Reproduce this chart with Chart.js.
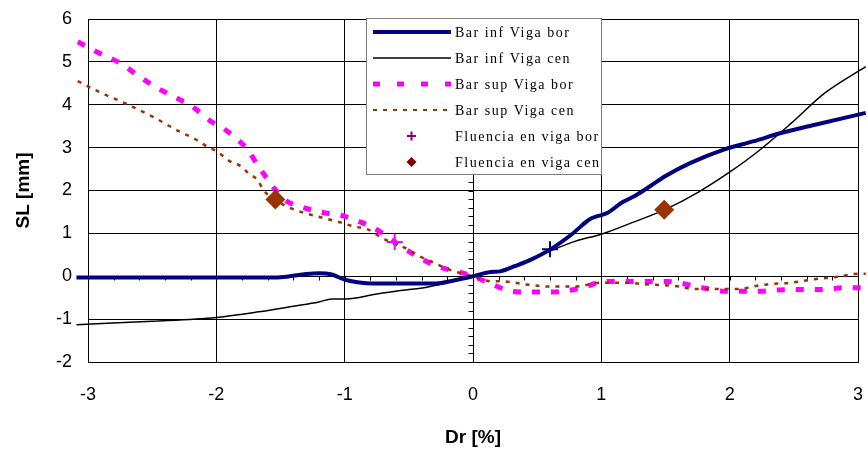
<!DOCTYPE html>
<html lang="es">
<head>
    <meta charset="UTF-8">
    <title>SL vs Dr</title>
    <script src="https://cdn.jsdelivr.net/npm/chart.js"></script>
    <style>
        body { margin: 0; background: #fff; }
        #wrap { width: 868px; height: 453px; }
    </style>
</head>
<body>
    <div id="wrap">
        <canvas id="sl-chart" width="868" height="453"></canvas>
    </div>

    <script>
        // Series values (Dr [%] -> SL [mm])
        var infBorX = [-3.09, -2.5, -2.0, -1.6, -1.45, -1.3, -1.2, -1.1, -1.0, -0.9, -0.78, -0.5, -0.29, -0.15, 0,
                       0.12, 0.22, 0.33, 0.46, 0.60, 0.77, 0.91, 0.97, 1.05, 1.16, 1.26, 1.38, 1.5, 1.7, 1.96, 2.19, 2.40, 2.69, 3.06];
        var infBorY = [-0.03, -0.03, -0.03, -0.03, -0.01, 0.05, 0.07, 0.04, -0.08, -0.14, -0.17, -0.17, -0.17, -0.1, 0,
                       0.09, 0.12, 0.24, 0.40, 0.62, 0.98, 1.33, 1.40, 1.48, 1.72, 1.87, 2.1, 2.34, 2.65, 2.96, 3.15, 3.34, 3.55, 3.81];

        var infCenX = [-3.09, -2.5, -2.0, -1.67, -1.4, -1.2, -1.1, -0.99, -0.76, -0.58, -0.37, -0.2, 0,
                       0.2, 0.33, 0.46, 0.61, 0.8, 1.0, 1.24, 1.5, 1.75, 2.01, 2.22, 2.48, 2.74, 3.06];
        var infCenY = [-1.13, -1.05, -0.96, -0.83, -0.7, -0.6, -0.53, -0.53, -0.42, -0.34, -0.26, -0.15, 0,
                       0.12, 0.24, 0.40, 0.6, 0.82, 0.98, 1.25, 1.56, 1.95, 2.45, 2.91, 3.57, 4.27, 4.89];

        var supBorX = [-3.08, -2.91, -2.75, -2.6, -2.46, -2.31, -2.17, -2.04, -1.95, -1.82, -1.75, -1.68, -1.60, -1.54, -1.45,
                       -1.36, -1.16, -1.04, -0.9, -0.78, -0.6, -0.45, -0.29, -0.14, 0,
                       0.15, 0.30, 0.42, 0.61, 0.77, 0.90, 0.96, 1.06, 1.26, 1.51, 1.65, 1.81, 1.96, 2.08, 2.24, 2.38, 2.55, 2.70, 2.89, 3.06];
        var supBorY = [5.47, 5.2, 4.97, 4.66, 4.39, 4.16, 3.92, 3.61, 3.46, 3.15, 2.93, 2.60, 2.26, 2.02, 1.75,
                       1.64, 1.48, 1.43, 1.29, 1.14, 0.78, 0.49, 0.24, 0.12, 0,
                       -0.19, -0.35, -0.37, -0.37, -0.32, -0.22, -0.16, -0.12, -0.12, -0.12, -0.18, -0.28, -0.35, -0.35, -0.35, -0.32, -0.31, -0.31, -0.27, -0.27];

        var supCenX = [-3.08, -2.9, -2.73, -2.47, -2.31, -2.16, -2.08, -1.98, -1.9, -1.8, -1.75, -1.68, -1.63, -1.54, -1.43,
                       -1.33, -1.22, -1.05, -0.94, -0.81, -0.73, -0.6, -0.52, -0.42, -0.33, -0.19, -0.07, 0,
                       0.12, 0.24, 0.41, 0.6, 0.8, 0.99, 1.18, 1.36, 1.61, 1.72, 1.91, 2.08, 2.18, 2.29, 2.48, 2.66, 2.85, 2.96, 3.06];
        var supCenY = [4.55, 4.28, 4.06, 3.68, 3.41, 3.19, 3.04, 2.88, 2.69, 2.55, 2.40, 2.25, 2.0, 1.78, 1.60,
                       1.49, 1.40, 1.27, 1.17, 1.08, 0.93, 0.74, 0.65, 0.47, 0.35, 0.16, 0.05, 0,
                       -0.11, -0.12, -0.19, -0.24, -0.24, -0.15, -0.15, -0.19, -0.24, -0.30, -0.30, -0.30, -0.24, -0.19, -0.15, -0.07, -0.01, 0.05, 0.06];

        // yield points
        var fluBorX = [-0.61, 0.60];
        var fluBorY = [0.80, 0.63];
        var fluCenX = [-1.54, 1.49];
        var fluCenY = [1.79, 1.55];

        var xTicks = [-3, -2, -1, 0, 1, 2, 3];
        var yTicks = [-2, -1, 0, 1, 2, 3, 4, 5, 6];

        var labels = ['Bar inf Viga bor', 'Bar inf Viga cen', 'Bar sup Viga bor', 'Bar sup Viga cen',
                      'Fluencia en viga bor', 'Fluencia en viga cen'];

        function pts(xs, ys) {
            return xs.map(function(x, i) { return {x: x, y: ys[i]}; });
        }

        // frame, zero axes and minor ticks
        var axesPlugin = {
            id: 'zeroAxes',
            beforeDatasetsDraw: function(chart) {
                var ctx = chart.ctx, a = chart.chartArea;
                var xs = chart.scales.x, ys = chart.scales.y;
                var x0 = Math.round(xs.getPixelForValue(0)) + 0.5;
                var y0 = Math.round(ys.getPixelForValue(0)) + 0.5;
                ctx.save();
                ctx.strokeStyle = '#000';
                ctx.lineWidth = 1;
                ctx.strokeRect(Math.round(a.left) + 0.5, Math.round(a.top) + 0.5,
                               Math.round(a.right - a.left), Math.round(a.bottom - a.top));
                ctx.beginPath();
                ctx.moveTo(x0, a.top); ctx.lineTo(x0, a.bottom);
                ctx.moveTo(a.left, y0); ctx.lineTo(a.right, y0);
                for (var v = -3; v <= 3.001; v += 0.2) {
                    var px = Math.round(xs.getPixelForValue(v)) + 0.5;
                    ctx.moveTo(px, y0); ctx.lineTo(px, y0 + 4);
                }
                for (var w = -2; w <= 6.001; w += 0.2) {
                    var py = Math.round(ys.getPixelForValue(w)) + 0.5;
                    ctx.moveTo(x0 - 5, py); ctx.lineTo(x0, py);
                }
                ctx.stroke();
                ctx.restore();
            }
        };

        // boxed legend inside the plot
        var legendPlugin = {
            id: 'boxLegend',
            afterDatasetsDraw: function(chart) {
                var ctx = chart.ctx;
                var bx = 366.5, by = 18.5, bw = 235, bh = 156;
                ctx.save();
                ctx.fillStyle = '#fff';
                ctx.fillRect(bx, by, bw, bh);
                ctx.strokeStyle = '#808080';
                ctx.lineWidth = 1;
                ctx.strokeRect(bx, by, bw, bh);
                var rowY = [32, 58, 84, 110, 136, 162];
                var styles = [
                    {c: '#000080', w: 4, d: []},
                    {c: '#000000', w: 1.5, d: []},
                    {c: '#FF00FF', w: 5, d: [7, 17]},
                    {c: '#993300', w: 2, d: [4, 6]}
                ];
                for (var i = 0; i < 4; i++) {
                    ctx.beginPath();
                    ctx.strokeStyle = styles[i].c;
                    ctx.lineWidth = styles[i].w;
                    ctx.setLineDash(styles[i].d);
                    ctx.moveTo(373, rowY[i]); ctx.lineTo(451, rowY[i]);
                    ctx.stroke();
                }
                ctx.setLineDash([]);
                // cross
                ctx.beginPath();
                ctx.strokeStyle = '#800080';
                ctx.lineWidth = 2;
                ctx.moveTo(407, rowY[4]); ctx.lineTo(416, rowY[4]);
                ctx.moveTo(411.5, rowY[4] - 4.5); ctx.lineTo(411.5, rowY[4] + 4.5);
                ctx.stroke();
                // diamond
                ctx.beginPath();
                ctx.fillStyle = '#800000';
                ctx.moveTo(411.5, rowY[5] - 5); ctx.lineTo(416.5, rowY[5]);
                ctx.lineTo(411.5, rowY[5] + 5); ctx.lineTo(406.5, rowY[5]);
                ctx.closePath();
                ctx.fill();
                ctx.fillStyle = '#000';
                ctx.font = '14px "Liberation Serif"';
                ctx.letterSpacing = '1.5px';
                ctx.textBaseline = 'middle';
                for (var j = 0; j < labels.length; j++) {
                    ctx.fillText(labels[j], 455, rowY[j] + 1);
                }
                ctx.restore();
            }
        };

        Chart.defaults.font.family = '"Liberation Sans", Arial, sans-serif';
        Chart.defaults.color = '#000';

        var ctx = document.getElementById('sl-chart').getContext('2d');
        var slChart = new Chart(ctx, {
            type: 'scatter',
            data: {
                datasets: [
                    { label: labels[0], data: pts(infBorX, infBorY), showLine: true, borderColor: '#000080',
                      borderWidth: 4, pointRadius: 0, tension: 0.3, cubicInterpolationMode: 'monotone', clip: false, order: 2 },
                    { label: labels[1], data: pts(infCenX, infCenY), showLine: true, borderColor: '#000000',
                      borderWidth: 1.5, pointRadius: 0, tension: 0.3, cubicInterpolationMode: 'monotone', clip: false, order: 3 },
                    { label: labels[2], data: pts(supBorX, supBorY), showLine: true, borderColor: '#FF00FF',
                      borderWidth: 5, borderDash: [8, 11], pointRadius: 0, tension: 0.3, cubicInterpolationMode: 'monotone', clip: false, order: 5 },
                    { label: labels[3], data: pts(supCenX, supCenY), showLine: true, borderColor: '#993300',
                      borderWidth: 2.5, borderDash: [4, 6], pointRadius: 0, tension: 0.3, cubicInterpolationMode: 'monotone', clip: false, order: 4 },
                    { label: labels[4], data: pts(fluBorX, fluBorY), showLine: false, pointStyle: 'cross',
                      pointRadius: 8, pointBorderWidth: 2, pointBorderColor: ['#FF00FF', '#000080'],
                      pointBackgroundColor: ['#FF00FF', '#000080'], clip: false, order: 0 },
                    { label: labels[5], data: pts(fluCenX, fluCenY), showLine: false, pointStyle: 'rectRot',
                      pointRadius: 10, pointBorderWidth: 0, pointBackgroundColor: '#993300',
                      pointBorderColor: '#993300', clip: false, order: 1 }
                ]
            },
            options: {
                responsive: false,
                animation: false,
                layout: { padding: { top: 19, right: 8, left: 0, bottom: 0 } },
                plugins: {
                    legend: { display: false },
                    tooltip: { enabled: false }
                },
                scales: {
                    x: {
                        type: 'linear',
                        min: xTicks[0],
                        max: xTicks[xTicks.length - 1],
                        afterBuildTicks: function(s) { s.ticks = xTicks.map(function(v) { return {value: v}; }); },
                        ticks: { font: { size: 18 }, padding: 22, color: '#000' },
                        grid: { color: '#000', lineWidth: 1, drawTicks: false },
                        border: { display: false },
                        title: { display: true, text: 'Dr [%]', font: { size: 19, weight: 'bold' },
                                 color: '#000', padding: { top: 0, bottom: 4 } },
                        afterFit: function(s) { s.height = 91; s.paddingLeft = 0; s.paddingRight = 0; }
                    },
                    y: {
                        type: 'linear',
                        min: yTicks[0],
                        max: yTicks[yTicks.length - 1],
                        afterBuildTicks: function(s) { s.ticks = yTicks.map(function(v) { return {value: v}; }); },
                        ticks: { font: { size: 18 }, padding: 16, color: '#000' },
                        grid: { color: '#000', lineWidth: 1, drawTicks: false },
                        border: { display: false },
                        title: { display: true, text: 'SL [mm]', font: { size: 19, weight: 'bold' },
                                 color: '#000', padding: { top: 12, bottom: 0 } },
                        afterFit: function(s) { s.width = 88; s.paddingTop = 0; s.paddingBottom = 0; }
                    }
                }
            },
            plugins: [axesPlugin, legendPlugin]
        });
    </script>
</body>
</html>
